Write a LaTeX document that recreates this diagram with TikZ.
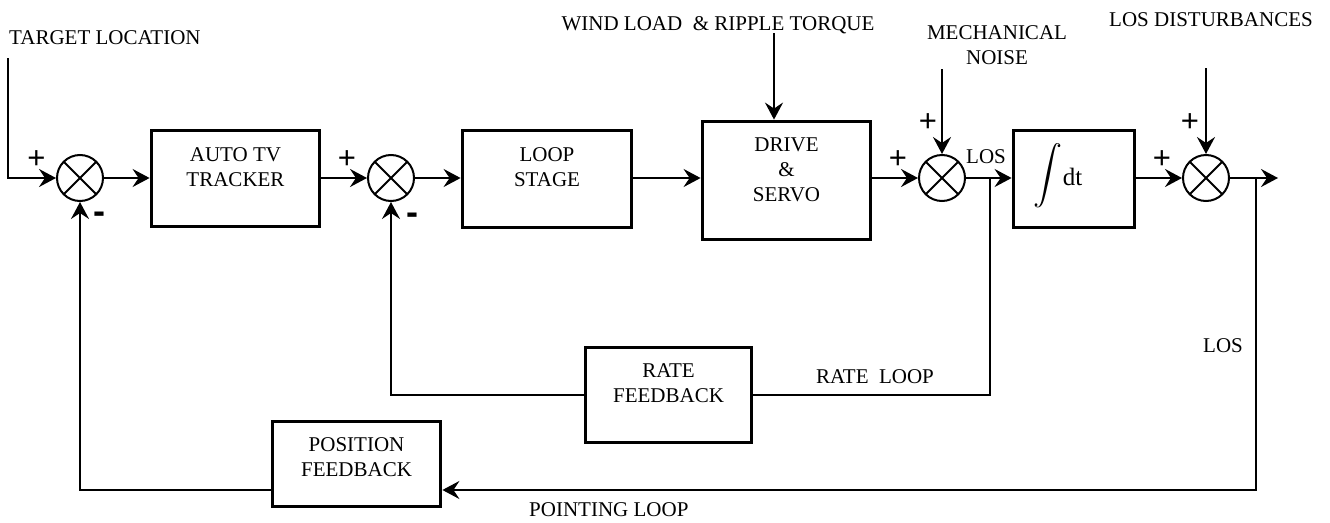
\documentclass[tikz,border=0pt]{standalone}
\usepackage{fontspec}
\setmainfont{Liberation Serif}
\newfontfamily\sgnfont{Liberation Sans}
\usetikzlibrary{arrows.meta}
\tikzset{
  conn/.style={line width=2.3pt, -{Stealth[length=17pt,width=18pt,inset=6pt]}},
  wire/.style={line width=2.3pt},
  blk/.style={draw, line width=3.8pt, inner sep=0pt},
  sumj/.style={draw, circle, line width=2pt, minimum size=46pt, inner sep=0pt,
    path picture={\draw[line width=2pt]
      (path picture bounding box.north west) -- (path picture bounding box.south east)
      (path picture bounding box.north east) -- (path picture bounding box.south west);}},
  lbl/.style={font=\fontsize{21}{25}\selectfont, inner sep=0pt, align=center},
  plus/.style={font=\sgnfont\fontsize{31}{31}\selectfont, inner sep=0pt},
  minus/.style={font=\sgnfont\bfseries\fontsize{36}{36}\selectfont, inner sep=0pt}
}
\begin{document}
\begin{tikzpicture}[x=1pt,y=-1pt]
\useasboundingbox (0,0) rectangle (1330,522);

% summing junctions
\node[sumj] (j1) at (80,178) {};
\node[sumj] (j2) at (391,178) {};
\node[sumj] (j3) at (942,178) {};
\node[sumj] (j4) at (1206,178) {};

% blocks
\node[blk, minimum width=168pt, minimum height=96pt] (tv) at (235.5,178.5) {};
\node[blk, minimum width=169pt, minimum height=97pt] (loop) at (547,179) {};
\node[blk, minimum width=168pt, minimum height=118pt] (drive) at (786.5,180.5) {};
\node[blk, minimum width=121pt, minimum height=97pt] (integ) at (1074,179) {};
\node[blk, minimum width=166pt, minimum height=95pt] (rate) at (668.5,395) {};
\node[blk, minimum width=168pt, minimum height=85pt] (pos) at (356.5,464) {};

% block texts
\node[lbl] (tvt) at (235.5,167.5) {AUTO TV\\TRACKER};
\node[lbl] (loopt) at (547,167.5) {LOOP\\STAGE};
\node[lbl] (drivet) at (786.5,169.5) {DRIVE\\\&\\SERVO};
\node[lbl, anchor=base] (integt) at (1058,185) {\raisebox{-6pt}{\scalebox{2.9}{$\displaystyle\int$}}{\fontsize{25}{25}\selectfont dt}};
\node[lbl] (ratet) at (668.5,383) {RATE\\FEEDBACK};
\node[lbl] (post) at (356.5,457.5) {POSITION\\FEEDBACK};

% coordinates
\coordinate (tl) at (8,58);
\coordinate (wl) at (774,33);
\coordinate (mn) at (942,69);
\coordinate (ld) at (1206,68);
\coordinate (out) at (1278,178);
\coordinate (b3) at (990,178);
\coordinate (b4) at (1256,178);
\coordinate (pl) at (1256,490);

% forward path
\draw[conn] (tl) |- (j1.west);
\draw[conn] (j1.east) -- (j1.east -| tv.west);
\draw[conn] (j2.west -| tv.east) -- (j2.west);
\draw[conn] (j2.east) -- (j2.east -| loop.west);
\draw[conn] (j2.east -| loop.east) -- (j2.east -| drive.west);
\draw[conn] (j3.west -| drive.east) -- (j3.west);
\draw[conn] (j3.east) -- (j3.east -| integ.west);
\draw[conn] (j4.west -| integ.east) -- (j4.west);
\draw[conn] (j4.east) -- (out);

% disturbances
\draw[conn] (wl) -- (wl |- drive.north);
\draw[conn] (mn) -- (j3.north);
\draw[conn] (ld) -- (j4.north);

% rate loop
\draw[wire] (b3) |- (rate.east);
\draw[conn] (rate.west) -| (j2.south);

% pointing loop
\draw[conn] (b4) -- (pl) -- (pl -| pos.east);
\draw[conn] (pl -| pos.west) -| (j1.south);

% labels
\node[lbl, anchor=base west] (tlt) at (9,44) {TARGET LOCATION};
\node[lbl, anchor=base] (wlt) at (718,30) {WIND LOAD\ \ \& RIPPLE TORQUE};
\node[lbl] (mnt) at (997,45) {MECHANICAL\\NOISE};
\node[lbl, anchor=base] (ldt) at (1211,26) {LOS DISTURBANCES};
\node[lbl, anchor=base] (los1) at (986,163) {LOS};
\node[lbl, anchor=base] (rlt) at (875,383) {RATE\ \ LOOP};
\node[lbl, anchor=base] (los2) at (1223,352) {LOS};
\node[lbl, anchor=base west] (plt) at (529,516) {POINTING LOOP};

% signs
\node[plus] (p1) at (36.5,159.5) {+};
\node[plus] (p2) at (347,160) {+};
\node[plus] (p3) at (898,160) {+};
\node[plus] (p4) at (928,123) {+};
\node[plus] (p5) at (1162,160) {+};
\node[plus] (p6) at (1190,123) {+};
\node[minus] (m1) at (99.5,218) {-};
\node[minus] (m2) at (412,218.5) {-};
\end{tikzpicture}
\end{document}
